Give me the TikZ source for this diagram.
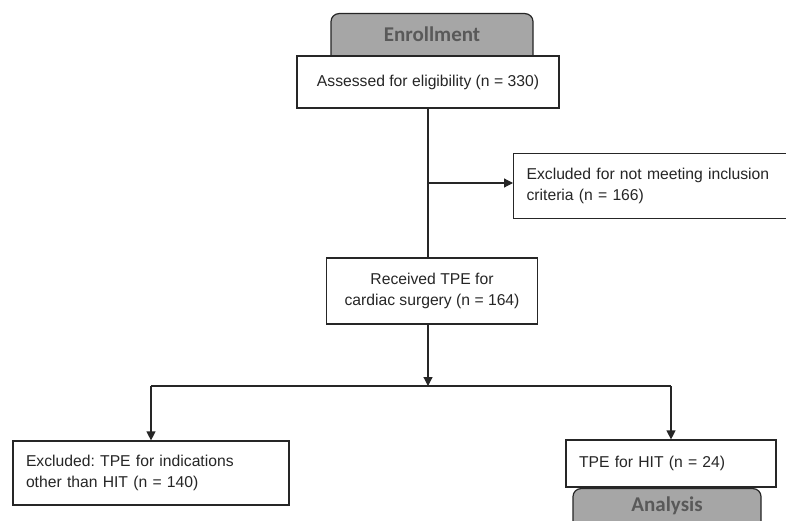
\documentclass[tikz,border=0pt]{standalone}
\usepackage{fontspec}
\setmainfont{Liberation Sans}
\newfontfamily\tabfont{Carlito}
\usepackage{tikz}
\usetikzlibrary{arrows.meta}
\usetikzlibrary{positioning}
\definecolor{tabgray}{HTML}{A6A6A6}
\definecolor{tabtext}{HTML}{595959}
\definecolor{linegray}{HTML}{262626}
\frenchspacing

\begin{document}
\begin{tikzpicture}[x=1pt,y=-1pt]
        \clip (0,0) rectangle (786,521);
        \fill[white] (0,0) rectangle (786,521);
        % header tabs
        \begin{scope}[every node/.style={rectangle,rounded corners=8pt,draw=linegray,line width=1.2pt,
            fill=tabgray,text=tabtext,font=\tabfont\bfseries\fontsize{21}{24}\selectfont,
            anchor=north,inner ysep=4pt}]
            \node[minimum width=202pt,text height=24pt,text depth=22pt] (enroll) at (432,13) {Enrollment};
            \node[minimum width=188pt,text height=19pt,text depth=30pt] (analysis) at (667,488) {Analysis};
        \end{scope}
        \begin{scope}[every node/.style={rectangle,draw=linegray,line width=1.2pt,fill=white,
            text=black!85,font=\fontsize{15.7}{21.5}\selectfont,inner sep=0pt}]
            \node[minimum width=262pt,minimum height=52pt] (assess) at (428,82) {Assessed for eligibility (n = 330)};
            \node[anchor=north west,minimum width=330pt,minimum height=65pt,text width=304pt,align=left] (excl1) at (513,153)
                {Excluded for not meeting inclusion\\criteria (n = 166)};
            \node[minimum width=211pt,minimum height=66pt,align=center] (recv) at (432,291)
                {Received TPE for\\cardiac surgery (n = 164)};
            \node[minimum width=276pt,minimum height=64pt,text width=250pt,align=left] (excl2) at (151,473)
                {Excluded: TPE for indications\\other than HIT (n = 140)};
            \node[minimum width=210pt,minimum height=47pt,text width=184pt,align=left] (hit) at (671,463.5)
                {TPE for HIT (n = 24)};
        \end{scope}
        \coordinate (j1) at (428,183);
        \coordinate (j2) at (428,386);
        \begin{scope}[>={Triangle[length=9pt,width=9pt]},
            every edge/.style={draw=linegray,line width=1.2pt}]
            \path (assess.south) edge (assess.south |- recv.north);
            \path [->] (j1) edge (j1 -| excl1.west);
            \path [->] (assess.south |- recv.south) edge (j2);
            \path (excl2.north |- j2) edge (hit.north |- j2);
            \path [->] (excl2.north |- j2) edge (excl2.north);
            \path [->] (hit.north |- j2) edge (hit.north);
        \end{scope}
    \end{tikzpicture}
\end{document}
